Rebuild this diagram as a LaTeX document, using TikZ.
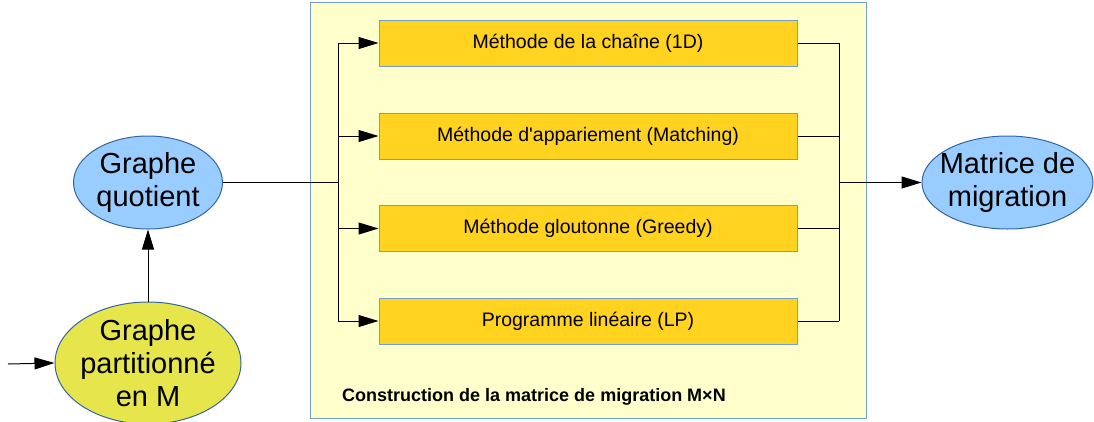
\documentclass[tikz,border=0pt]{standalone}
\usepackage{fontspec}
\setmainfont{Liberation Sans}
\usetikzlibrary{shapes.geometric,arrows.meta}
\definecolor{frameFill}{HTML}{FFFFCC}
\definecolor{frameLine}{HTML}{729FCF}
\definecolor{boxFill}{HTML}{FFD320}
\definecolor{boxLine}{HTML}{729FCF}
\definecolor{ellBlue}{HTML}{99CCFF}
\definecolor{ellGreen}{HTML}{E6E64C}
\definecolor{ellLine}{HTML}{3465A4}
\tikzset{
  frame/.style={draw=frameLine, fill=frameFill, line width=1pt, minimum width=556pt, minimum height=416pt, inner sep=0pt},
  methodbox/.style={draw=boxLine, fill=boxFill, line width=1pt, minimum width=418pt, minimum height=46pt, inner sep=0pt, font=\fontsize{19.5}{22}\selectfont},
  ell/.style={ellipse, draw=ellLine, line width=1pt, inner sep=0pt},
  elltext/.style={inner sep=0pt, align=center, font=\fontsize{29}{33}\selectfont},
  conn/.style={draw=black, line width=1pt},
  arr/.style={conn, -{Triangle[length=20pt,width=12pt]}},
  caption/.style={anchor=west, inner sep=0pt, font=\fontsize{18}{21}\selectfont\bfseries}
}
\begin{document}
\begin{tikzpicture}[x=1pt,y=-1pt]
\useasboundingbox (0,0) rectangle (1094,421);
\node[frame] (fr) at (588,210) {};
\node[methodbox] (b1) at (588,43) {Méthode de la chaîne (1D)};
\node[methodbox] (b2) at (588,136) {Méthode d\textquotesingle appariement (Matching)};
\node[methodbox] (b3) at (588,228.5) {Méthode gloutonne (Greedy)};
\node[methodbox] (b4) at (588,321) {Programme linéaire (LP)};
\node[caption] (cap) at (342,397) {Construction de la matrice de migration M×N};
\node[ell, fill=ellBlue, minimum width=149pt, minimum height=93pt] (q) at (148,182.5) {};
\node[elltext] (qt) at (q) {Graphe\\quotient};
\node[ell, fill=ellGreen, minimum width=186pt, minimum height=122pt] (p) at (148,363) {};
\node[elltext] (pt) at (p) {Graphe\\partitionné\\en M};
\node[ell, fill=ellBlue, minimum width=171pt, minimum height=93pt] (m) at (1007.5,182.5) {};
\node[elltext] (mt) at (m) {Matrice de\\migration};
\coordinate (in) at (8,364);
\coordinate (jl) at (338,182.5);
\coordinate (jr) at (839,182.5);
\draw[arr] (in) -- (p.west);
\draw[arr] (p.north) -- (q.south);
\draw[conn] (q.east) -- (jl);
\draw[conn] (b1.west -| jl) -- (b4.west -| jl);
\foreach \b in {b1,b2,b3,b4} {
  \draw[arr] (\b.west -| jl) -- (\b.west);
  \draw[conn] (\b.east) -- (\b.east -| jr);
}
\draw[conn] (b1.east -| jr) -- (b4.east -| jr);
\draw[arr] (jr) -- (m.west);
\end{tikzpicture}
\end{document}
